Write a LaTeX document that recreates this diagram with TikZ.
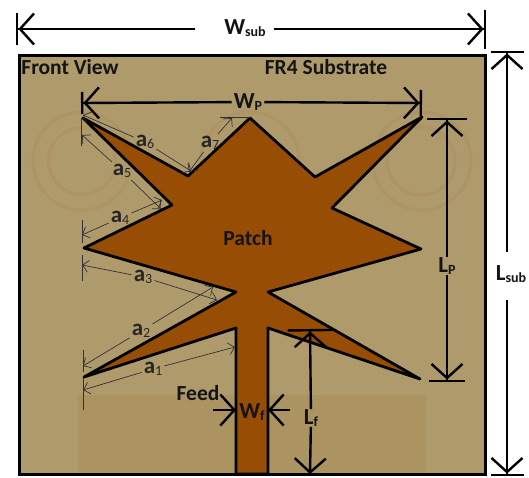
\documentclass[tikz,border=0pt]{standalone}
\usepackage{fontspec}
\setmainfont{Carlito}
\usetikzlibrary{arrows.meta}
\definecolor{substrate}{RGB}{175,154,108}
\definecolor{groundpad}{RGB}{171,148,98}
\definecolor{ringtan}{RGB}{174,147,100}
\definecolor{patchcu}{RGB}{151,78,4}
\newcommand{\lowtxt}[1]{\raisebox{-0.1em}{\fontsize{14}{14}\selectfont #1}}
\newcommand{\lownum}[1]{\raisebox{-0.1em}{\fontsize{14}{14}\selectfont\mdseries #1}}
\tikzset{
	titletxt/.style={font=\bfseries\fontsize{21.5}{24}\selectfont, text=black!92, inner sep=0pt},
	dimtxt/.style={font=\bfseries\fontsize{23}{25}\selectfont, text=black!92, inner sep=2pt},
	atxt/.style={font=\bfseries\fontsize{23}{25}\selectfont, text=black!85, inner sep=2pt},
	dimend/.style={line width=2.4pt, -{Straight Barb[length=14pt,width=31pt,line width=2.4pt,sep=0pt]Bar[width=#1pt,line width=2.4pt,sep=0pt]}},
	dimopen/.style={line width=2.4pt, -{Straight Barb[length=14pt,width=31pt,line width=2.4pt,sep=0pt]}},
	adim/.style={line width=0.7pt, color=black!80, -{Straight Barb[length=6pt,width=12pt,line width=0.7pt,sep=0pt]}},
	atick/.style={line width=0.7pt, color=black!80},
	ring/.style={line width=3pt, color=ringtan},
}
\begin{document}
\begin{tikzpicture}[x=1pt, y=-1pt]
	\useasboundingbox (0, 0) rectangle (529, 477);

	%%%%% substrate %%%%%
	\fill[substrate] (19, 55) rectangle (485, 474);
	\fill[groundpad] (78, 395) rectangle (426, 473);
	\draw[ring] (82, 161) circle (49);
	\draw[ring] (82, 161) circle (33.5);
	\draw[ring] (250, 161) circle (49);
	\draw[ring] (422, 161) circle (49);
	\draw[ring] (421, 161) circle (34);
	\draw[line width=3pt] (19, 55) rectangle (485, 474);

	%%%%% patch and feed %%%%%
	\draw[line width=2.8pt, fill=patchcu, line join=round] (250, 118) -- (315, 177) -- (422, 117) -- (332, 208)
		-- (421, 249) -- (268, 292) -- (420, 379) -- (268, 328) -- (268, 474) -- (236, 474) -- (236, 328)
		-- (84, 377) -- (236, 292) -- (84, 248) -- (172, 205) -- (83, 118) -- (188, 176) -- cycle;

	%%%%% texts %%%%%
	\node[titletxt] (front) at (70, 67) {Front View};
	\node[titletxt] (fr4) at (326, 67) {FR4 Substrate};
	\node[titletxt] (patch) at (248, 238) {Patch};
	\node[titletxt] (feed) at (198, 393) {Feed};

	\node[dimtxt] (wsub) at (245, 28) {W\lowtxt{sub}};
	\node[dimtxt] (lsub) at (511, 274) {L\lowtxt{sub}};
	\node[dimtxt] (wp) at (248, 102) {W\lowtxt{P}};
	\node[dimtxt, inner sep=0pt] (lp) at (447, 266) {L\lowtxt{P}};
	\node[dimtxt, inner sep=0pt] (lf) at (311, 418) {L\lowtxt{f}};
	\node[dimtxt, inner sep=0pt] (wf) at (252, 412) {W\lowtxt{f}};

	%%%%% large dimensions %%%%%
	\coordinate (wsubgap) at (195, 29);
	\draw[dimend=32] (wsubgap) -- (16, 29);
	\draw[dimend=39] (274, 29) -- (486, 29);
	\draw[dimend=33] (507, 252) -- (507, 51);
	\draw[dimend=33] (507, 300) -- (507, 476);
	\draw[dimend=22] (wp) -- (81, 103);
	\draw[dimend=26] (wp) -- (422, 103);
	\draw[dimend=40] (lp) -- (447, 118);
	\draw[dimend=36] (lp) -- (447, 382);
	\draw[dimend=45] (lf) -- (310, 329);
	\draw[dimopen] (lf) -- (310, 474);
	\draw[dimopen] (213, 410) -- (236, 410);
	\draw[dimopen] (290, 410) -- (268, 410);

	%%%%% small dimensions %%%%%
	\node[atxt] (a1) at (153, 369) {a\lownum{1}};
	\node[atxt] (a2) at (141, 331) {a\lownum{2}};
	\node[atxt] (a3) at (143, 277) {a\lownum{3}};
	\node[atxt] (a4) at (120, 218) {a\lownum{4}};
	\node[atxt] (a5) at (122, 171) {a\lownum{5}};
	\node[atxt] (a6) at (145, 142) {a\lownum{6}};
	\node[atxt] (a7) at (210, 143) {a\lownum{7}};

	\draw[adim] (a1) -- (83, 390);
	\draw[adim] (a1) -- (235, 347);
	\draw[adim] (a2) -- (83, 366);
	\draw[adim] (a2) -- (213, 287);
	\draw[adim] (a3) -- (82, 265);
	\draw[adim] (a3) -- (217, 300);
	\draw[adim] (a4) -- (82, 235);
	\draw[adim] (a4) -- (162, 200);
	\draw[adim] (a5) -- (82, 135);
	\draw[adim] (a5) -- (161, 209);
	\draw[adim] (a6) -- (83, 115);
	\draw[adim] (a6) -- (191, 171);
	\draw[adim] (a7) -- (189, 172);
	\draw[adim] (a7) -- (232, 118);

	\draw[atick] (83, 378) -- (83, 410);
	\draw[atick] (83, 350) -- (83, 372);
	\draw[atick] (82, 255) -- (82, 281);
	\draw[atick] (82, 220) -- (82, 243);
	\draw[atick] (81, 118) -- (81, 146);
	\draw[atick] (220, 117) -- (250, 117);
\end{tikzpicture}
\end{document}
